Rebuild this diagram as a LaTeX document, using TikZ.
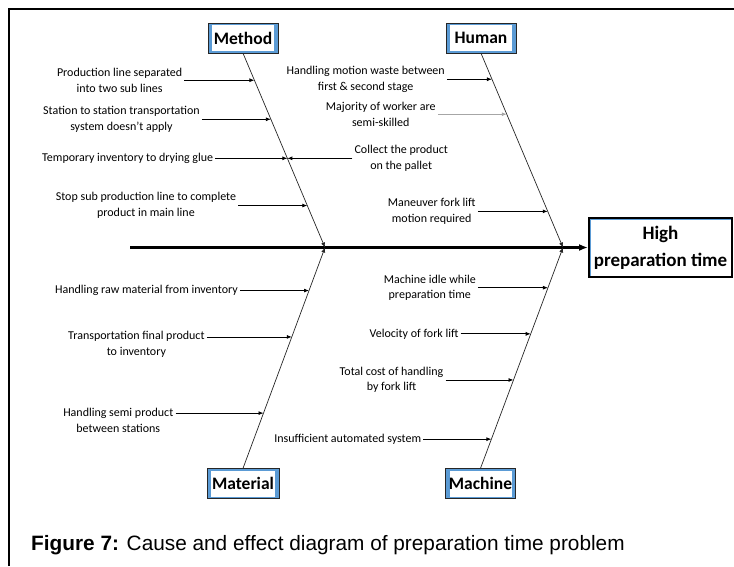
\documentclass[tikz,border=0pt]{standalone}
\usepackage{fontspec}
\setmainfont{Carlito}
\newfontfamily\captionfont{Liberation Sans}
\usetikzlibrary{arrows.meta,positioning,calc}
\definecolor{catblue}{RGB}{91,155,213}
\tikzset{
  catbox/.style={draw=black!85, fill=catblue, minimum width=70pt, minimum height=30pt,
    inner sep=0pt, font=\fontsize{17.5}{17.5}\selectfont\bfseries,
    path picture={\fill[white] ([xshift=4pt,yshift=-2pt]path picture bounding box.north west)
      rectangle ([xshift=-4pt,yshift=2pt]path picture bounding box.south east);}},
  effect/.style={draw=black, line width=2pt, fill=catblue, minimum width=143pt, minimum height=59pt,
    align=center, font=\fontsize{19}{27}\selectfont\bfseries,
    path picture={\fill[white] ([xshift=2pt,yshift=-1.5pt]path picture bounding box.north west)
      rectangle ([xshift=-1pt,yshift=1pt]path picture bounding box.south east);}},
  cause/.style={align=center, inner sep=2pt, font=\fontsize{12}{15.5}\selectfont},
  arr/.style={-{Latex[length=5pt,width=4pt]}, line width=0.8pt},
  bone/.style={-{Latex[length=5pt,width=4pt]}, line width=0.7pt, black!85},
  spine/.style={-{Latex[length=9pt,width=7pt]}, line width=2.4pt}
}

\begin{document}
\begin{tikzpicture}[x=1pt, y=-1pt]
  \useasboundingbox (0,0) rectangle (734,566);
  \draw[line width=1.2pt] (9,566) -- (9,9) -- (734,9);

  \node[catbox] (method) at (243,38) {Method};
  \node[catbox] (human) at (481,38) {Human};
  \node[catbox, minimum width=72pt] (material) at (243,483.5) {Material};
  \node[catbox] (machine) at (480.5,483.5) {Machine};
  \node[effect] (effect) at (660.5,247.5) {High\\preparation time};

  \coordinate (tail) at (130,247.5);
  \coordinate (mhead) at (325,247.5);
  \coordinate (hhead) at (563,247.5);

  \draw[spine] (tail) -- (effect.west);

  \draw[bone] (method.south) -- (mhead);
  \draw[bone] (material.north) -- (mhead);
  \draw[bone] (human.south) -- (hhead);
  \draw[bone] (machine.north) -- (hhead);

  \foreach \t [count=\i] in {0.139,0.340,0.541,0.784}
    \coordinate (m\i) at ($(method.south)!\t!(mhead)$);
  \foreach \t [count=\i] in {0.134,0.314,0.814}
    \coordinate (h\i) at ($(human.south)!\t!(hhead)$);
  \foreach \t [count=\i] in {0.805,0.595,0.25}
    \coordinate (a\i) at ($(material.north)!\t!(mhead)$);
  \foreach \t [count=\i] in {0.818,0.609,0.4,0.132}
    \coordinate (c\i) at ($(machine.north)!\t!(hhead)$);

  \node[cause, left=70pt of m1] (split) {Production line separated\\into two sub lines};
  \node[cause, left=69pt of m2] (transfer) {Station to station transportation\\system doesn't apply};
  \node[cause, left=72pt of m3] (glue) {Temporary inventory to drying glue};
  \node[cause, left=69pt of m4] (stop) {Stop sub production line to complete\\product in main line};
  \node[cause, right=65pt of m3] (collect) {Collect the product\\on the pallet};
  \draw[arr] (split) -- (m1);
  \draw[arr] (transfer) -- (m2);
  \draw[arr] (glue) -- (m3);
  \draw[arr] (stop) -- (m4);
  \draw[arr] (collect) -- (m3);

  \node[cause, left=45pt of h1] (waste) {Handling motion waste between\\first \& second stage};
  \node[cause, left=69pt of h2] (skill) {Majority of worker are\\semi-skilled};
  \node[cause, left=70pt of h3] (forklift) {Maneuver fork lift\\motion required};
  \draw[arr] (waste) -- (h1);
  \draw[arr, draw=black!35] (skill) -- (h2);
  \draw[arr] (forklift) -- (h3);

  \node[cause, left=69pt of a1] (raw) {Handling raw material from inventory};
  \node[cause, left=85pt of a2, yshift=-7.5pt] (final) {Transportation final product\\to inventory};
  \node[cause, left=88pt of a3, yshift=-7.5pt] (semi) {Handling semi product\\between stations};
  \draw[arr] (raw) -- (a1);
  \draw[arr] (final.east |- a2) -- (a2);
  \draw[arr] (semi.east |- a3) -- (a3);

  \node[cause, left=70pt of c1] (idle) {Machine idle while\\preparation time};
  \node[cause, left=70pt of c2] (velocity) {Velocity of fork lift};
  \node[cause, left=68pt of c3] (cost) {Total cost of handling\\by fork lift};
  \node[cause, left=68pt of c4] (auto) {Insufficient automated system};
  \draw[arr] (idle) -- (c1);
  \draw[arr] (velocity) -- (c2);
  \draw[arr] (cost) -- (c3);
  \draw[arr] (auto) -- (c4);

  \node[anchor=base west, inner sep=0pt, font=\captionfont\fontsize{20.8}{21}\selectfont] (caption) at (31,550)
    {\textbf{Figure 7:} Cause and effect diagram of preparation time problem};
\end{tikzpicture}
\end{document}
